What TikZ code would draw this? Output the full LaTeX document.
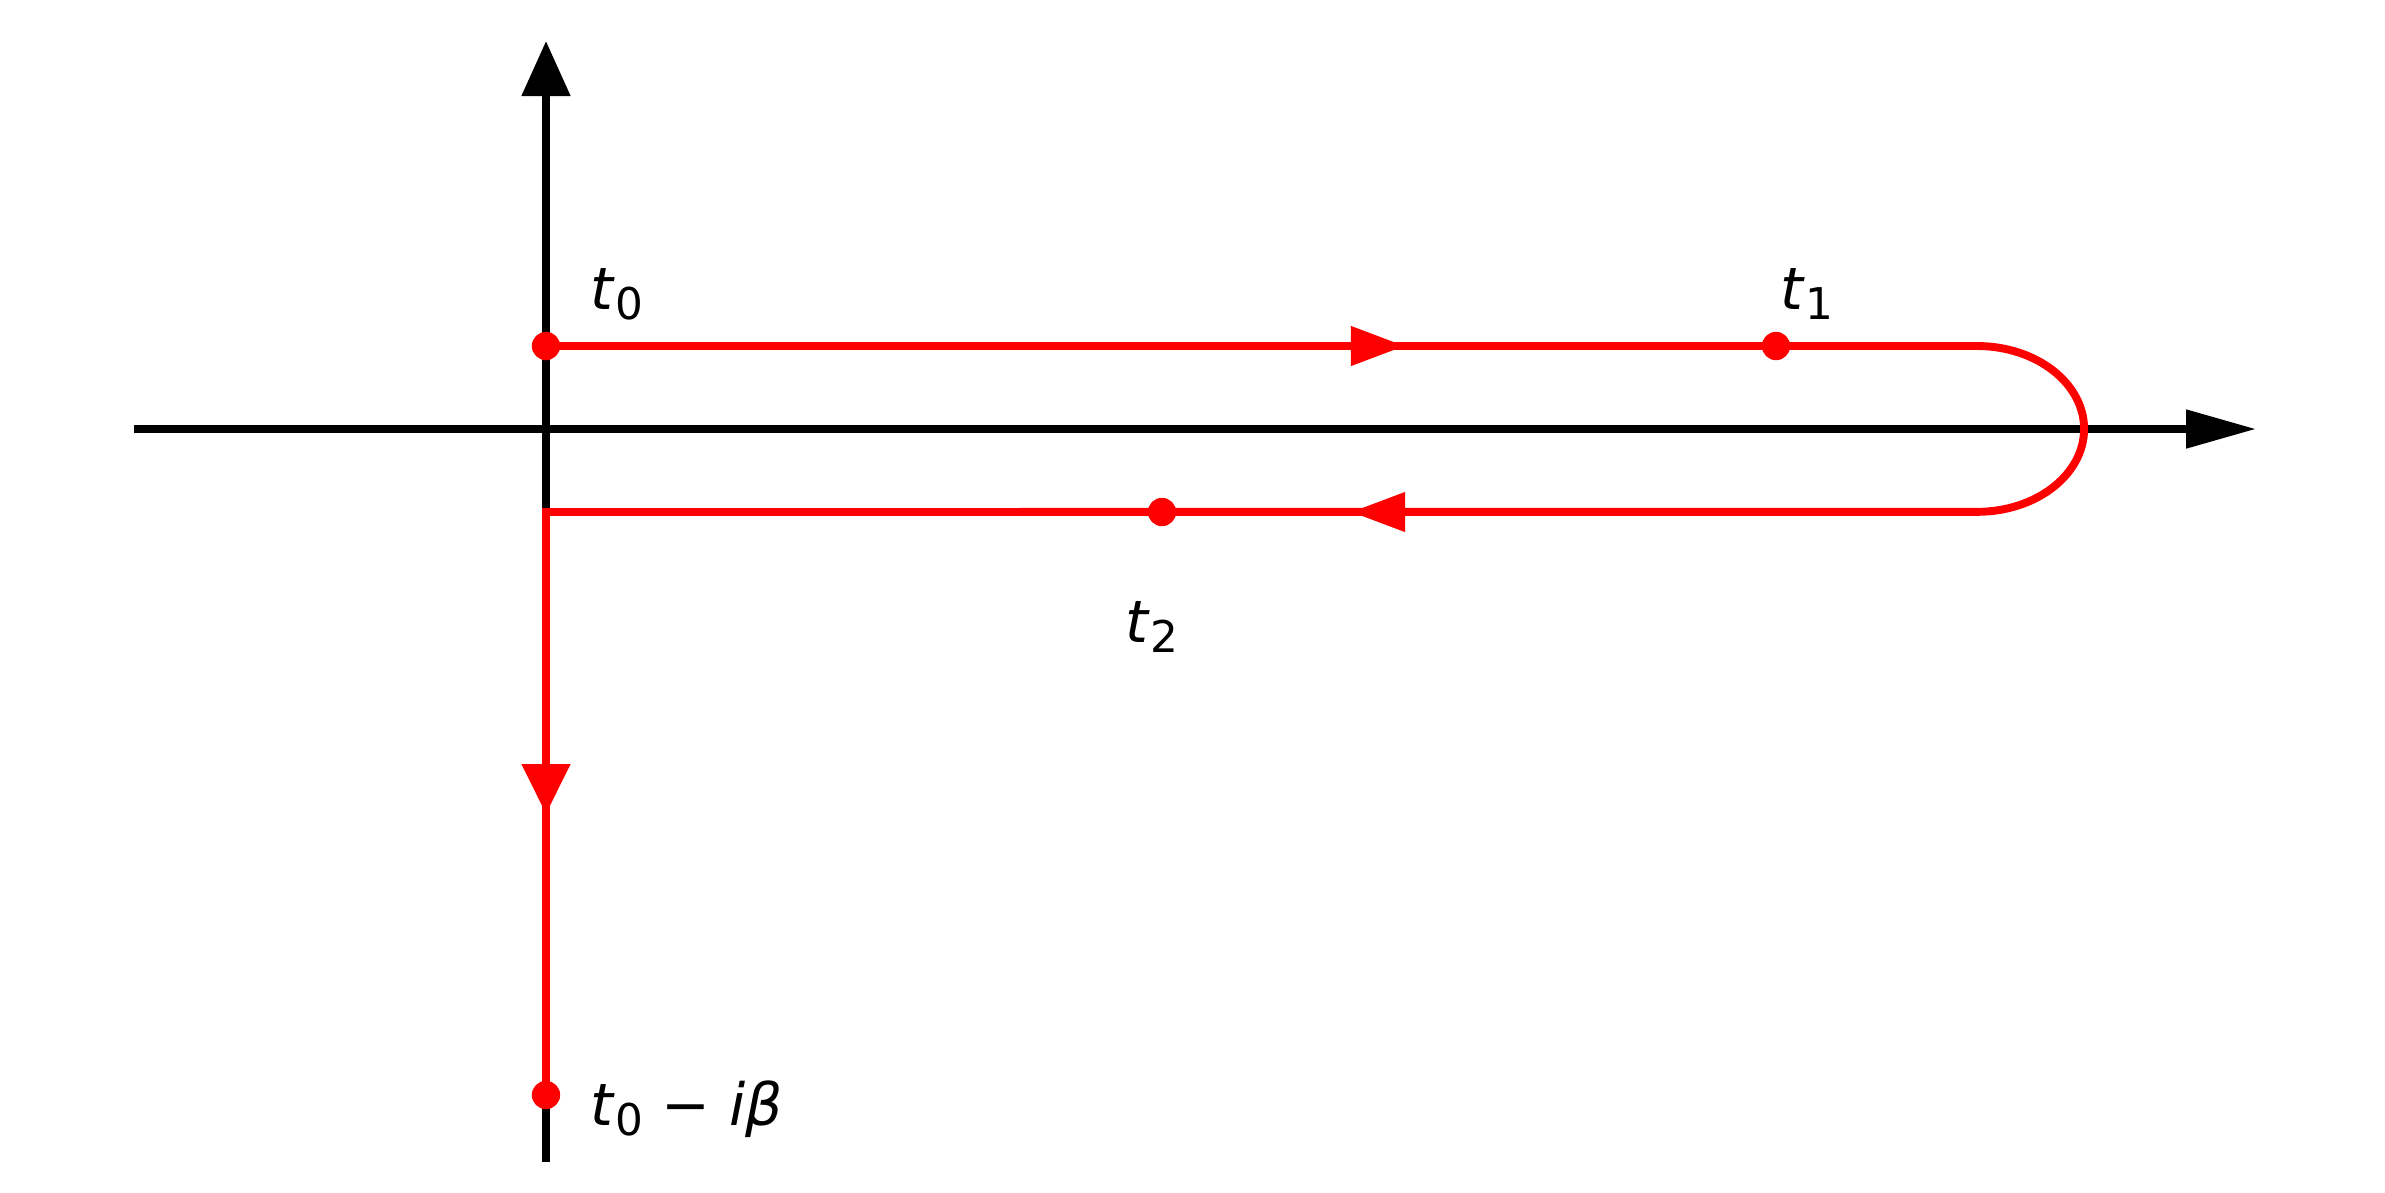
\documentclass[tikz,border=0pt]{standalone}
\usepackage{fontspec}
\setmainfont{DejaVu Sans}
\usetikzlibrary{arrows.meta}
\newcommand{\lowidx}[1]{\raisebox{-2.4pt}{\fontsize{10.5}{10.5}\selectfont #1}}

\begin{document}
\begin{tikzpicture}
			[x=0.24pt,y=0.24pt,
			axis/.style={line width=1.9pt,black},
			contour/.style={line width=1.9pt,red},
			dot/.style={circle,fill=red,inner sep=0pt,minimum size=6.8pt},
			lbl/.style={inner sep=0pt,anchor=base west,font=\fontsize{14}{14}\selectfont},
			axtiph/.style={-{Triangle[length=16.8pt,width=8.9pt]}},
			axtipv/.style={-{Triangle[length=13.2pt,width=11.3pt]}},
			flowh/.style={-{Triangle[length=13pt,width=9.1pt]}},
			flowv/.style={-{Triangle[length=12pt,width=11.3pt]}}]
			\useasboundingbox (-546,429) rectangle (1839,-763);
			
			\coordinate (xl) at (-412,0);
			\coordinate (xr) at (1710,0);
			\coordinate (yb) at (0,-733);
			\coordinate (yt) at (0,388);
			\coordinate (ur) at (1431,83);
			\coordinate (lr) at (1431,-83);
			\coordinate (ll) at (0,-83);
			\coordinate (fu) at (859,83);
			\coordinate (fl) at (805,-83);
			\coordinate (fv) at (0,-385);
			
			\draw[axis,axtiph] (xl) -- (xr);
			\draw[axis,axtipv] (yb) -- (yt);
			
			\node[dot] (t0) at (0,83) {};
			\node[dot] (t1) at (1230,83) {};
			\node[dot] (t2) at (616,-83) {};
			\node[dot] (tb) at (0,-666) {};
			
			\draw[contour] (t0.center) -- (ur) arc[start angle=90,end angle=-90,x radius=25.7pt,y radius=19.9pt] -- (ll) -- (tb.center);
			\draw[contour,flowh] (t0.center) -- (fu);
			\draw[contour,flowh] (lr) -- (fl);
			\draw[contour,flowv] (ll) -- (fv);
			
			\node[lbl] (l0) at (44,120) {\textit{t}\lowidx{0}};
			\node[lbl] (l1) at (1234,120) {\textit{t}\lowidx{1}};
			\node[lbl] (l2) at (579,-213) {\textit{t}\lowidx{2}};
			\node[lbl] (lb) at (44,-696) {\textit{t}\lowidx{0} − \textit{iβ}};
			
			\end{tikzpicture}
\end{document}
